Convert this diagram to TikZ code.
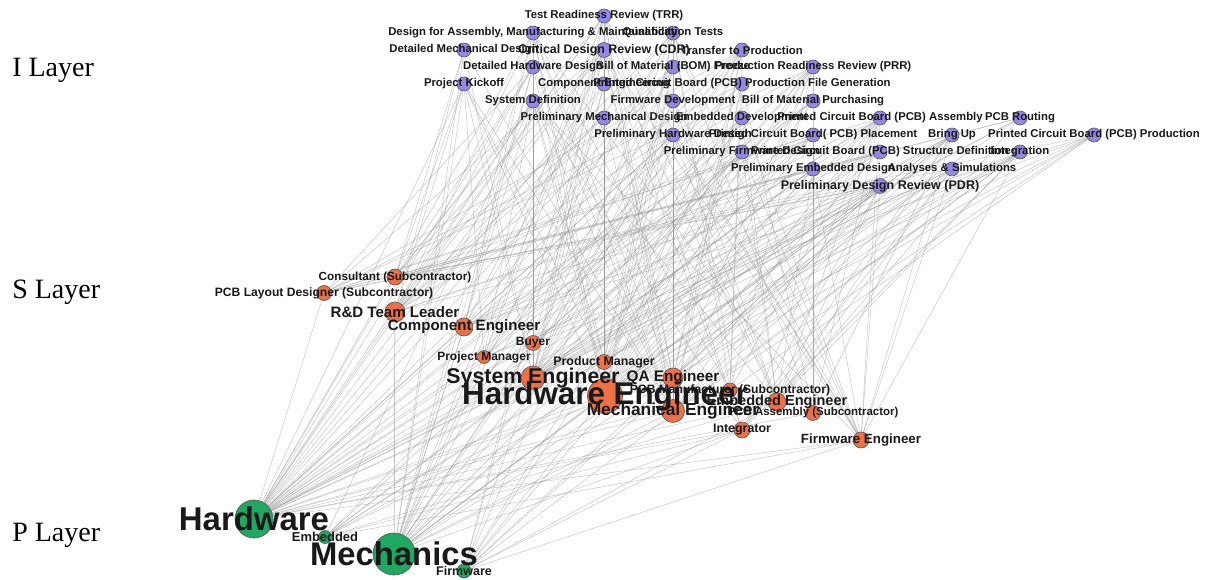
\documentclass[tikz,border=0pt]{standalone}
\usepackage{fontspec}
\setmainfont{Liberation Serif}
\setsansfont{Liberation Sans}
\usepackage{tikz}
\definecolor{iblue}{RGB}{146,136,232}
\definecolor{sorange}{RGB}{238,112,70}
\definecolor{pgreen}{RGB}{30,168,98}
\definecolor{linkgray}{RGB}{150,150,150}
\pgfdeclarelayer{bg}
\pgfdeclarelayer{fg}
\pgfsetlayers{bg,main,fg}
\tikzset{
    dot/.style={circle, draw=black!65, line width=0.5pt, inner sep=0pt},
    vlabel/.style={inner sep=0pt, text=black!90},
    link/.style={draw=linkgray, line width=0.35pt, opacity=0.55},
    layer/.style={anchor=west, inner sep=0pt, font=\fontsize{21}{21}\selectfont}
}
\def\Vertex(#1) at (#2) r #3 in #4 font #5 #6; {
    \node[dot, fill=#4, minimum size=#3*1.5pt] (#1) at (#2) {};
    \begin{pgfonlayer}{fg}
        \node[vlabel, font=\sffamily\bfseries\fontsize{#5}{#5}\selectfont] (#1-t) at (#2) {#6};
    \end{pgfonlayer}
}

\begin{document}
\begin{tikzpicture}[x=0.75pt, y=-0.75pt]
    \useasboundingbox (0,0) rectangle (1207,580);
    \node[layer] (ilayer) at (12,70) {I Layer};
    \node[layer] (slayer) at (12,292) {S Layer};
    \node[layer] (player) at (12,535) {P Layer};
    % I layer
    \Vertex(trr) at (604,16) r 7 in iblue font 8.5 {Test Readiness Review (TRR)};
    \Vertex(dfam) at (533,33) r 7 in iblue font 8.5 {Design for Assembly, Manufacturing \& Maintainability};
    \Vertex(qt) at (673,33) r 7 in iblue font 8.5 {Qualification Tests};
    \Vertex(dmd) at (464,50) r 7 in iblue font 8.5 {Detailed Mechanical Design};
    \Vertex(cdr) at (604,50) r 7.5 in iblue font 9.3 {Critical Design Review (CDR)};
    \Vertex(ttp) at (742,50) r 7 in iblue font 8.5 {Transfer to Production};
    \Vertex(dhd) at (533,67) r 7 in iblue font 8.5 {Detailed Hardware Design};
    \Vertex(bomf) at (673,67) r 7 in iblue font 8.5 {Bill of Material (BOM) Freeze};
    \Vertex(prr) at (813,67) r 7 in iblue font 8.5 {Production Readiness Review (PRR)};
    \Vertex(pko) at (464,84) r 7 in iblue font 8.5 {Project Kickoff};
    \Vertex(ceng) at (604,84) r 7 in iblue font 8.5 {Component Engineering};
    \Vertex(pfg) at (742,84) r 7 in iblue font 8.5 {Printed Circuit Board (PCB) Production File Generation};
    \Vertex(sdef) at (533,101) r 7 in iblue font 8.5 {System Definition};
    \Vertex(fwd) at (673,101) r 7 in iblue font 8.5 {Firmware Development};
    \Vertex(bomp) at (813,101) r 7 in iblue font 8.5 {Bill of Material Purchasing};
    \Vertex(pmd) at (604,118) r 7 in iblue font 8.5 {Preliminary Mechanical Design};
    \Vertex(emd) at (742,118) r 7 in iblue font 8.5 {Embedded Development};
    \Vertex(pcba) at (880,118) r 7 in iblue font 8.5 {Printed Circuit Board (PCB) Assembly};
    \Vertex(rout) at (1020,118) r 7 in iblue font 8.5 {PCB Routing};
    \Vertex(phd) at (673,135) r 7 in iblue font 8.5 {Preliminary Hardware Design};
    \Vertex(plac) at (813,135) r 7 in iblue font 8.5 {Printed Circuit Board( PCB) Placement};
    \Vertex(bup) at (952,135) r 7 in iblue font 8.5 {Bring Up};
    \Vertex(pcbp) at (1094,135) r 7 in iblue font 8.5 {Printed Circuit Board (PCB) Production};
    \Vertex(pfd) at (742,152) r 7 in iblue font 8.5 {Preliminary Firmware Design};
    \Vertex(sdf) at (880,152) r 7 in iblue font 8.5 {Printed Circuit Board (PCB) Structure Definition};
    \Vertex(intg) at (1020,152) r 7 in iblue font 8.5 {Integration};
    \Vertex(ped) at (813,169) r 7 in iblue font 8.5 {Preliminary Embedded Design};
    \Vertex(ans) at (952,169) r 7 in iblue font 8.5 {Analyses \& Simulations};
    \Vertex(pdr) at (880,186) r 7.5 in iblue font 9.4 {Preliminary Design Review (PDR)};
    % S layer
    \Vertex(cons) at (395,277) r 8 in sorange font 8.8 {Consultant (Subcontractor)};
    \Vertex(pcbl) at (324,293) r 7.5 in sorange font 9.1 {PCB Layout Designer (Subcontractor)};
    \Vertex(rdtl) at (395,312) r 10 in sorange font 11.3 {R\&D Team Leader};
    \Vertex(come) at (464,327) r 9 in sorange font 11.3 {Component Engineer};
    \Vertex(buy) at (533,343) r 7.5 in sorange font 9 {Buyer};
    \Vertex(pm) at (484,357) r 6.5 in sorange font 9 {Project Manager};
    \Vertex(prm) at (604,362) r 7.5 in sorange font 9.3 {Product Manager};
    \Vertex(syse) at (533,378) r 12 in sorange font 16 {System Engineer};
    \Vertex(qa) at (673,378) r 10 in sorange font 11.5 {QA Engineer};
    \Vertex(pcbm) at (730,390) r 7 in sorange font 9.1 {PCB Manufacturer (Subcontractor)};
    \Vertex(embe) at (777,402) r 9 in sorange font 10.9 {Embedded Engineer};
    \Vertex(meche) at (673,411) r 11.5 in sorange font 13 {Mechanical Engineer};
    \Vertex(pcbas) at (813,413) r 7.5 in sorange font 8.6 {PCB Assembly (Subcontractor)};
    \Vertex(integ) at (742,430) r 8 in sorange font 9.3 {Integrator};
    \Vertex(fwe) at (861,440) r 8 in sorange font 10 {Firmware Engineer};
    \Vertex(hwe) at (605,396) r 17.5 in sorange font 23.5 {Hardware Engineer};
    % P layer
    \Vertex(hw) at (254,519) r 19 in pgreen font 24.7 {Hardware};
    \Vertex(emb) at (325,537) r 6.5 in pgreen font 9.7 {Embedded};
    \Vertex(mech) at (394,554) r 21 in pgreen font 24.6 {Mechanics};
    \Vertex(fw) at (464,571) r 7 in pgreen font 9.4 {Firmware};
    % links
    \begin{pgfonlayer}{bg}
    \foreach \a/\list in {
        hwe/{trr,dfam,qt,cdr,ttp,dhd,bomf,prr,pko,ceng,pfg,sdef,pmd,pcba,rout,phd,plac,bup,pcbp,sdf,intg,ans,pdr,fwd,emd,pfd,ped,bomp},
        syse/{trr,dfam,qt,dmd,cdr,ttp,dhd,prr,pko,sdef,fwd,pmd,emd,phd,bup,pfd,intg,ped,ans,pdr,bomf,ceng,pcba,plac,sdf,rout},
        meche/{dfam,dmd,cdr,ttp,prr,pko,sdef,pmd,pcba,bup,intg,ans,pdr,trr,qt,dhd,phd,pfg,pcbp},
        rdtl/{trr,cdr,prr,pko,sdef,pdr,ttp,qt,bomf,dfam,dmd,dhd,phd,pmd,ped,sdf},
        come/{ceng,bomf,bomp,dhd,phd,cdr,pdr,dfam,pcba,plac,pcbp,sdf},
        buy/{bomp,bomf,ceng,pcbp,pcba},
        pm/{pko,trr,cdr,pdr,prr,ttp,sdef,qt,intg,bomp,pfg},
        prm/{pko,sdef,trr,cdr,pdr,prr,ttp,dfam,qt,bomf},
        qa/{trr,qt,prr,ttp,bup,intg,cdr,pdr,pcbp,pcba,dfam,pfg,sdf},
        pcbm/{pcbp,pfg,dfam,ttp,pcba,qt,prr},
        embe/{emd,ped,fwd,pfd,pdr,cdr,bup,intg,sdef,ans,trr,phd,pcba,rout},
        pcbas/{pcba,pfg,dfam,bup,plac,qt,prr},
        integ/{intg,bup,trr,qt,pcba,ans,pdr,cdr,sdef},
        fwe/{fwd,pfd,ped,emd,pdr,cdr,bup,intg,trr,sdef,ans,pcba,phd,qt},
        cons/{ans,sdf,pdr,cdr,dhd,trr,rout,plac,pko,sdef,pmd,dmd},
        pcbl/{rout,plac,sdf,pfg,dhd,cdr,pdr,prr,pcbp,pcba,ttp},
        hw/{hwe,syse,rdtl,come,buy,pm,prm,qa,pcbm,pcbas,integ,pcbl,cons,meche,embe,fwe,dhd,phd,pko,cdr,pdr,sdef,plac,rout,sdf,pcba,pcbp,bup,ans,dfam,trr,qt,bomf,bomp,ceng,pfg,prr,ttp,emd},
        emb/{embe,fwe,syse,hwe,integ,emd,ped,bup,intg,pdr,sdef,pfd},
        mech/{meche,hwe,syse,rdtl,come,pm,prm,qa,pcbm,cons,integ,buy,dmd,pmd,cdr,pdr,dfam,pko,sdef,trr,ans,qt,prr,ttp,dhd,phd,bup,pcba,plac},
        fw/{fwe,embe,syse,integ,hwe,fwd,pfd,bup,intg,pdr,emd,ped,trr,cdr}}
        \foreach \b in \list
            \draw[link] (\a) -- (\b);
    \end{pgfonlayer}
\end{tikzpicture}
\end{document}
